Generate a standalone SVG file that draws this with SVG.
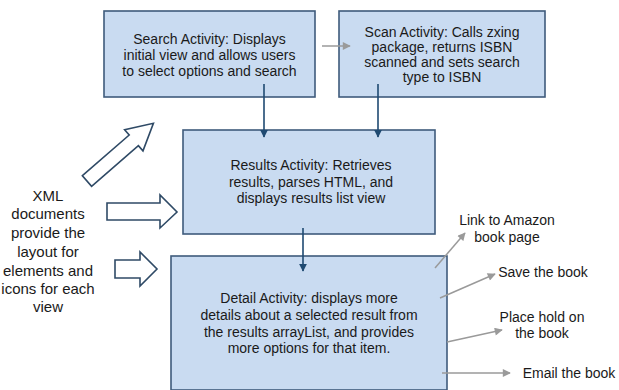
<svg xmlns="http://www.w3.org/2000/svg" width="619" height="390" viewBox="0 0 619 390">
<defs>
<style>
.box{fill:#c9dbf1;stroke:#3f5b7c;stroke-width:1.6}
.t{font-family:"Liberation Sans",Arial,sans-serif;font-size:14px;fill:#1a1a1a;text-anchor:middle}
.tl{font-family:"Liberation Sans",Arial,sans-serif;font-size:15px;fill:#1a1a1a;text-anchor:middle}
.blue{stroke:#1f4a72;stroke-width:1.6;fill:none}
.gray{stroke:#9a9a9a;stroke-width:1.5;fill:none}
.hollow{fill:#ffffff;stroke:#2f4a66;stroke-width:1.6;stroke-linejoin:miter}
</style>
<marker id="ab" viewBox="0 0 10 10" refX="9" refY="5" markerWidth="8" markerHeight="8" markerUnits="userSpaceOnUse" orient="auto"><path d="M0,0 L10,5 L0,10 z" fill="#1f4a72"/></marker>
<marker id="ag" viewBox="0 0 10 10" refX="9" refY="5" markerWidth="9" markerHeight="8" markerUnits="userSpaceOnUse" orient="auto"><path d="M0,0 L10,5 L0,10 z" fill="#9a9a9a"/></marker>
</defs>
<rect width="619" height="390" fill="#ffffff"/>

<g id="search">
<rect class="box" x="104" y="11" width="211" height="86"/>
<text class="t" x="209.5" y="44">Search Activity: Displays</text>
<text class="t" x="209.5" y="60">initial view and allows users</text>
<text class="t" x="209.5" y="76">to select options and search</text>
</g>

<g id="scan">
<rect class="box" x="339" y="11" width="206" height="86"/>
<text class="t" x="442" y="37">Scan Activity: Calls zxing</text>
<text class="t" x="442" y="52">package, returns ISBN</text>
<text class="t" x="442" y="67">scanned and sets search</text>
<text class="t" x="442" y="82">type to ISBN</text>
</g>

<g id="results">
<rect class="box" x="183" y="130" width="252" height="104"/>
<text class="t" x="311" y="170">Results Activity: Retrieves</text>
<text class="t" x="311" y="187">results, parses HTML, and</text>
<text class="t" x="311" y="203">displays results list view</text>
</g>

<g id="detail">
<rect class="box" x="171" y="256" width="276" height="134"/>
<text class="t" x="309" y="303">Detail Activity: displays more</text>
<text class="t" x="309" y="320">details about a selected result from</text>
<text class="t" x="309" y="337">the results arrayList, and provides</text>
<text class="t" x="309" y="353">more options for that item.</text>
</g>

<g id="xml">
<text class="tl" x="48" y="201">XML</text>
<text class="tl" x="48" y="219">documents</text>
<text class="tl" x="48" y="238">provide the</text>
<text class="tl" x="48" y="257">layout for</text>
<text class="tl" x="48" y="276">elements and</text>
<text class="tl" x="48" y="294">icons for each</text>
<text class="tl" x="48" y="312">view</text>
</g>

<g id="labels">
<text class="t" x="507" y="225">Link to Amazon</text>
<text class="t" x="507" y="242">book page</text>
<text class="t" x="543" y="277">Save the book</text>
<text class="t" x="542" y="322">Place hold on</text>
<text class="t" x="542" y="338">the book</text>
<text class="t" x="569" y="378">Email the book</text>
</g>

<g id="connectors">
<line class="gray" x1="322" y1="46" x2="350" y2="46" marker-end="url(#ag)"/>
<line class="blue" x1="264" y1="84" x2="264" y2="137" marker-end="url(#ab)"/>
<line class="blue" x1="378" y1="84" x2="378" y2="137" marker-end="url(#ab)"/>
<line class="blue" x1="303" y1="228" x2="303" y2="271" marker-end="url(#ab)"/>
<line class="gray" x1="435" y1="268" x2="465" y2="233" marker-end="url(#ag)"/>
<line class="gray" x1="440" y1="298" x2="495" y2="274" marker-end="url(#ag)"/>
<line class="gray" x1="447" y1="342" x2="502" y2="330" marker-end="url(#ag)"/>
<line class="gray" x1="442" y1="373" x2="510" y2="373" marker-end="url(#ag)"/>
<polygon class="hollow" transform="translate(87,181) rotate(-41)" points="0,-7 62,-7 62,-14 88,0 62,14 62,7 0,7"/>
<polygon class="hollow" points="107,203 160,203 160,195 177,212 160,228 160,220 107,220"/>
<polygon class="hollow" points="115,260 140,260 140,252 157,269 140,286 140,278 115,278"/>
</g>
</svg>
